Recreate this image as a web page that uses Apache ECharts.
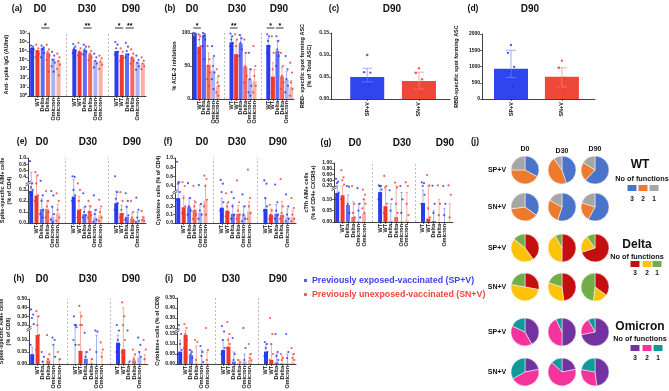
<!DOCTYPE html>
<html>
<head>
<meta charset="utf-8">
<script src="https://cdn.jsdelivr.net/npm/echarts@6/dist/echarts.min.js"></script>
<style>
  html, body { margin: 0; padding: 0; background: #fff; }
  #main { width: 669px; height: 391px; }
</style>
</head>
<body>
<div id="main"></div>
<script>
// ---- data ----
var variants = ['WT', 'WT', 'Delta', 'Delta', 'Omicron', 'Omicron'];
var dayNames = ['D0', 'D30', 'D90'];
var barX = [0, 1, 2, 3, 4, 5, 8, 9, 10, 11, 12, 13, 16, 17, 18, 19, 20, 21];

// (a) anti-spike IgG (AU/ml)
var iggMean = [2.3e5, 1.3e5, 2.3e5, 6.5e4, 1.5e4, 8e3, 1.6e5, 8.5e4, 1.3e5, 4.3e4, 8e3, 6.5e3, 1e5, 3.6e4, 5.5e4, 2e4, 5.5e3, 4.3e3];
var iggDots = [
  [4e5, 3e5, 2e5, 1.5e5, 8e4, 5e4, 2e4], [5e5, 2e5, 1e5, 5e4, 2e4, 5e3], [4e5, 2.5e5, 1.5e5, 6e4, 2e4],
  [5e5, 1.5e5, 8e4, 3e4, 1e4, 5e2], [8e4, 3e4, 1e4, 5e3, 2e3, 5e2], [5e4, 2e4, 8e3, 3e3, 1e3, 2e2],
  [6e5, 3e5, 2e5, 1e5, 6e4], [8e5, 2e5, 1e5, 5e4, 3e4], [5e5, 3e5, 1.5e5, 8e4, 4e4],
  [3e5, 1e5, 5e4, 2e4, 1e4], [5e4, 2e4, 8e3, 4e3, 1.5e3], [3e4, 1.5e4, 7e3, 3e3, 1e3],
  [1e6, 5e5, 2e5, 8e4, 4e4], [2e5, 8e4, 3e4, 1.5e4, 8e3], [8e5, 3e5, 1e5, 4e4, 2e4],
  [1.5e5, 5e4, 2e4, 8e3, 4e3], [3e4, 1e4, 5e3, 2e3, 8e2], [2e4, 8e3, 4e3, 2e3, 1e3]
];
var iggSig = [[2, 3, '*'], [10, 11, '**'], [16, 17, '*'], [18, 19, '**']];

// (b) % ACE-2 inhibition
var aceMean = [96, 79, 97, 52, 43, 20, 86, 68, 84, 49, 30, 27, 82, 34, 73, 34, 29, 18];
var aceErr = [100, 98, 100, 70, 62, 33, 95, 88, 97, 70, 45, 45, 92, 55, 88, 48, 42, 28];
var aceDots = [
  [100, 99, 98, 97, 95, 90], [98, 95, 90, 80, 70, 60, 50], [100, 98, 95, 90, 80, 60],
  [80, 60, 50, 40, 30, 20], [80, 65, 50, 40, 30, 15], [45, 35, 25, 20, 10, 5],
  [99, 95, 90, 85, 80, 75], [98, 90, 80, 60, 45, 30], [97, 92, 85, 75, 65],
  [90, 70, 50, 35, 25], [70, 45, 30, 20, 10, 5], [80, 50, 35, 20, 10],
  [98, 95, 88, 80, 70, 60], [95, 70, 45, 25, 10, 5], [95, 88, 75, 65, 50],
  [70, 50, 35, 25, 15], [65, 45, 30, 20, 10], [55, 40, 25, 15, 5]
];
var aceSig = [[0, 1, '*'], [8, 9, '**'], [16, 17, '*'], [18, 19, '*']];

// (c) RBD-specific ASC (% of total ASC), (d) RBD-specific ASC
var ascGroups = ['SP+V', 'SN+V'];
var ascPctMean = [0.05, 0.041];
var ascPctLow = [0.039, 0.023];
var ascPctHigh = [0.07, 0.061];
var ascPctDots = [[0.1, 0.061, 0.06, 0.043, 0.032], [0.07, 0.059, 0.045, 0.025, 0.014]];
var ascCountMean = [932, 686];
var ascCountLow = [660, 370];
var ascCountHigh = [1500, 960];
var ascCountDots = [[1660, 1420, 990, 850, 380], [1180, 960, 620, 380, 170]];

// (e) spike-specific AIM+ (% of CD4)
var cd4AimMean = [0.29, 0.25, 0.125, 0.125, 0.057, 0.088, 0.24, 0.12, 0.08, 0.11, 0.05, 0.07, 0.18, 0.09, 0.057, 0.04, 0.01, 0.035];
var cd4AimErr = [0.55, 0.4, 0.22, 0.2, 0.14, 0.17, 0.38, 0.24, 0.14, 0.16, 0.12, 0.13, 0.29, 0.16, 0.14, 0.09, 0.1, 0.06];
var cd4AimDots = [
  [0.9, 0.35, 0.32, 0.3, 0.28, 0.25], [0.55, 0.45, 0.35, 0.25, 0.2, 0.15], [0.37, 0.25, 0.2, 0.12, 0.08, 0.05],
  [0.29, 0.2, 0.15, 0.1, 0.05], [0.29, 0.25, 0.15, 0.08, 0.03, 0.01], [0.27, 0.2, 0.12, 0.05, 0.02],
  [0.42, 0.4, 0.3, 0.25, 0.2, 0.15], [0.35, 0.3, 0.2, 0.12, 0.05], [0.27, 0.15, 0.1, 0.07, 0.05],
  [0.2, 0.15, 0.1, 0.07, 0.05], [0.25, 0.12, 0.08, 0.03, 0.01], [0.21, 0.15, 0.1, 0.05, 0.02],
  [0.42, 0.28, 0.22, 0.18, 0.12, 0.08], [0.28, 0.2, 0.12, 0.08, 0.05], [0.27, 0.2, 0.15, 0.07, 0.03],
  [0.2, 0.1, 0.05, 0.02], [0.23, 0.12, 0.05, 0.02, 0.01], [0.11, 0.05, 0.03, 0.02]
];

// (f) cytokine+ (% of CD4)
var cd4CytMean = [0.3, 0.19, 0.19, 0.16, 0.125, 0.27, 0.185, 0.15, 0.11, 0.11, 0.1, 0.14, 0.17, 0.1, 0.11, 0.1, 0.07, 0.07];
var cd4CytErr = [0.5, 0.32, 0.3, 0.27, 0.22, 0.42, 0.3, 0.24, 0.22, 0.21, 0.2, 0.26, 0.3, 0.17, 0.22, 0.26, 0.17, 0.15];
var cd4CytDots = [
  [0.92, 0.48, 0.45, 0.35, 0.28, 0.2], [0.48, 0.4, 0.3, 0.2, 0.12, 0.08], [0.46, 0.3, 0.2, 0.15, 0.1],
  [0.4, 0.25, 0.2, 0.1, 0.05], [0.42, 0.23, 0.15, 0.1, 0.05], [0.62, 0.55, 0.4, 0.28, 0.2, 0.1],
  [0.53, 0.45, 0.35, 0.25, 0.15, 0.1], [0.34, 0.25, 0.2, 0.12, 0.08], [0.35, 0.3, 0.2, 0.1, 0.05],
  [0.52, 0.25, 0.15, 0.1, 0.05], [0.33, 0.2, 0.1, 0.05, 0.02], [0.75, 0.3, 0.2, 0.12, 0.05],
  [0.52, 0.45, 0.3, 0.2, 0.15, 0.08], [0.22, 0.15, 0.1, 0.07, 0.05], [0.43, 0.25, 0.15, 0.1, 0.05],
  [0.55, 0.2, 0.12, 0.08, 0.05], [0.33, 0.2, 0.1, 0.05, 0.02], [0.3, 0.18, 0.1, 0.05, 0.02]
];

// (g) cTfh AIM+ (% of CD4+ CXCR5+)
var tfhMean = [0.128, 0.118, 0.075, 0.022, 0.003, 0.037, 0.132, 0.07, 0.003, 0.022, 0.003, 0.007, 0.084, 0.015, 0.004, 0, 0, 0];
var tfhErr = [0.2, 0.2, 0.12, 0.09, 0.08, 0.1, 0.2, 0.15, 0.08, 0.2, 0.13, 0.13, 0.14, 0.2, 0.05, 0.1, 0.06, 0.08];
var tfhDots = [
  [0.45, 0.35, 0.3, 0.13, 0.1, 0.05], [0.75, 0.5, 0.4, 0.25, 0.1, 0.05], [0.2, 0.19, 0.08, 0.04],
  [0.2, 0.08, 0.04, 0.02], [0.17, 0.08, 0.05, 0.02], [0.15, 0.12, 0.1, 0.08, 0.06, 0.04],
  [0.22, 0.2, 0.2, 0.15, 0.1, 0.05], [0.55, 0.2, 0.18, 0.08, 0.04], [0.14, 0.1, 0.05],
  [0.32, 0.18, 0.08, 0.04], [0.2, 0.1, 0.04], [0.33, 0.2, 0.08, 0.03],
  [0.33, 0.3, 0.2, 0.12, 0.08, 0.04], [0.58, 0.22, 0.06, 0.02], [0.21, 0.08, 0.04],
  [0.22, 0.08, 0.03], [0.2, 0.08, 0.03], [0.22, 0.12, 0.02]
];

// (h) spike-specific AIM+ (% of CD8)
var cd8AimMean = [0.041, 0.121, 0, 0.015, 0, 0, 0, 0.055, 0.022, 0.003, 0, 0, 0.089, 0.062, 0, 0.015, 0.027, 0];
var cd8AimErr = [0.07, 0.3, 0.01, 0.022, 0.07, 0.02, 0.2, 0.35, 0.05, 0.02, 0.12, 0.05, 0.12, 0.4, 0.005, 0.03, 0.05, 0.04];
var cd8AimDots = [
  [0.38, 0.32, 0.28, 0.21, 0.08, 0.02], [0.36, 0.3, 0.2, 0.12, 0.06, 0.03], [0.05, 0.03, 0.01],
  [0.12, 0.04, 0.02], [0.11, 0.1, 0.08, 0.03], [0.05, 0.02],
  [0.3, 0.2, 0.2, 0.18, 0.1, 0.08], [0.42, 0.3, 0.2, 0.2, 0.08, 0.03], [0.13, 0.05, 0.03],
  [0.06, 0.02], [0.15, 0.14, 0.05], [0.09, 0.06, 0.03],
  [0.2, 0.15, 0.1, 0.08, 0.05], [0.46, 0.3, 0.2, 0.1, 0.05], [0.15, 0.01],
  [0.06, 0.04, 0.02], [0.11, 0.08, 0.05, 0.03], [0.1, 0.06, 0.02]
];

// (i) cytokine+ (% of CD8)
var cd8CytMean = [0.062, 0.145, 0.045, 0.002, 0.003, 0.003, 0.07, 0.087, 0.012, 0.003, 0.012, 0.02, 0.062, 0.02, 0.008, 0.003, 0.003, 0.007];
var cd8CytErr = [0.12, 0.18, 0.07, 0.09, 0.07, 0.06, 0.12, 0.13, 0.06, 0.02, 0.05, 0.05, 0.1, 0.1, 0.05, 0.04, 0.05, 0.05];
var cd8CytDots = [
  [0.23, 0.15, 0.1, 0.07, 0.05, 0.02], [0.24, 0.2, 0.15, 0.12, 0.08], [0.07, 0.06, 0.05, 0.03],
  [0.12, 0.11, 0.02], [0.09, 0.06, 0.04, 0.01], [0.2, 0.07, 0.02],
  [0.22, 0.17, 0.12, 0.08, 0.05], [0.26, 0.15, 0.12, 0.1, 0.08], [0.13, 0.05, 0.02],
  [0.02, 0.01], [0.2, 0.08, 0.02], [0.1, 0.05, 0.03, 0.02],
  [0.11, 0.1, 0.08, 0.06, 0.04], [0.3, 0.15, 0.1, 0.05, 0.02], [0.15, 0.06, 0.04, 0.02],
  [0.05, 0.03, 0.02], [0.15, 0.06, 0.03], [0.08, 0.05, 0.03, 0.02]
];

// (j) share of responders by number of functions [3, 2, 1], per day D0/D30/D90
var fnLabels = ['3', '2', '1'];
var wtSPV = [[33, 42, 25], [45, 45, 10], [62, 22, 16]];
var wtSNV = [[35, 38, 27], [55, 28, 17], [58, 22, 20]];
var deltaSPV = [[40, 46, 14], [50, 42, 8], [70, 20, 10]];
var deltaSNV = [[28, 50, 22], [48, 32, 20], [35, 17, 48]];
var omiSPV = [[42, 40, 18], [50, 43, 7], [72, 20, 8]];
var omiSNV = [[22, 45, 33], [22, 65, 13], [48, 30, 22]];

// ---- styling ----
var FONT = '"Liberation Sans", Arial, sans-serif';
var INK = '#111';
var SP_NAME = 'Previously exposed-vaccinated (SP+V)';
var SN_NAME = 'Previously unexposed-vaccinated (SN+V)';
var dotBlue = '#2433ee', dotRed = '#ef3a2f';
var barColors = ['#2a3cf0', '#f0392b', '#5e6df2', '#f3695d', '#a9b2f5', '#f6b1a8'];
var errColors = ['#7f8bf0', '#f18a80'];
var jit = [-0.22, 0.18, -0.05, 0.28, -0.3, 0.08, 0.22];
var sup = ['\u2070', '\u00b9', '\u00b2', '\u00b3', '\u2074', '\u2075', '\u2076', '\u2077'];

function piecewise(lowTop, upBottom, tUp, slope) {
  return function (v) {
    if (v <= lowTop) return v;
    if (v >= upBottom) return tUp + (v - upBottom) * slope;
    return lowTop + (v - lowTop) / (upBottom - lowTop) * (tUp - lowTop);
  };
}

var panels = [
  { grid: { left: 29, top: 33, width: 117, height: 63 }, scale: function (v) { return Math.log10(Math.max(v, 1)); },
    ticks: [1, 10, 100, 1e3, 1e4, 1e5, 1e6, 1e7], fmt: function (v) { return '10' + sup[Math.round(Math.log10(v))]; },
    name: 'Anti- spike IgG (AU/ml)', gap: 19, mean: iggMean, err: null, dots: iggDots, sig: iggSig },
  { grid: { left: 192, top: 33, width: 102, height: 66 }, scale: function (v) { return v; },
    ticks: [0, 50, 100], fmt: function (v) { return String(v); },
    name: '% ACE-2 inhibition', gap: 14, mean: aceMean, err: aceErr, dots: aceDots, sig: aceSig },
  { grid: { left: 28, top: 158, width: 118, height: 65 }, scale: piecewise(0.3, 0.4, 0.418, 0.287), brk: 0.35,
    ticks: [0, 0.1, 0.2, 0.3, 0.4, 0.6, 0.8, 1.0], fmt: function (v) { return v.toFixed(1); },
    name: 'Spike-specific AIM+ cells\n(% of CD4)', gap: 15, mean: cd4AimMean, err: cd4AimErr, dots: cd4AimDots },
  { grid: { left: 175, top: 158, width: 121, height: 65 }, scale: piecewise(0.3, 0.4, 0.446, 0.562), brk: 0.35,
    ticks: [0, 0.1, 0.2, 0.3, 0.4, 0.6, 0.8, 1.0], fmt: function (v) { return v.toFixed(1); },
    name: 'Cytokine+ cells (% of CD4)', gap: 10, mean: cd4CytMean, err: cd4CytErr, dots: cd4CytDots },
  { grid: { left: 334, top: 163, width: 119, height: 59 }, scale: piecewise(0.14, 0.2, 0.1586, 0.1268), brk: 0.17,
    ticks: [0, 0.05, 0.1, 0.2, 0.4, 0.6, 0.8, 1.0], fmt: function (v) { return v.toFixed(2); },
    name: 'cTfh AIM+ cells\n(% of CD4+ CXCR5+)', gap: 17, mean: tfhMean, err: tfhErr, dots: tfhDots },
  { grid: { left: 29, top: 299, width: 119, height: 65 }, scale: piecewise(0.13, 0.2, 0.1625, 0.3617), brk: 0.165,
    ticks: [0, 0.05, 0.1, 0.2, 0.3, 0.4, 0.5], fmt: function (v) { return v.toFixed(2); },
    name: 'Spike-specific AIM+ cells\n(% of CD8)', gap: 17, mean: cd8AimMean, err: cd8AimErr, dots: cd8AimDots },
  { grid: { left: 177, top: 298, width: 119, height: 66 }, scale: piecewise(0.15, 0.2, 0.18, 0.5), brk: 0.175,
    ticks: [0, 0.05, 0.1, 0.15, 0.2, 0.3, 0.4, 0.5], fmt: function (v) { return v.toFixed(2); },
    name: 'Cytokine+ cells (% of CD8)', gap: 11, mean: cd8CytMean, err: cd8CytErr, dots: cd8CytDots }
];

var grids = [], xAxes = [], yAxes = [], series = [], graphics = [];

function axisLineStyle() { return { show: true, onZero: false, lineStyle: { color: INK, width: 0.8 } }; }

function errSeries(gi, data, capW) {
  return {
    type: 'custom', xAxisIndex: gi, yAxisIndex: gi, silent: true, z: 5, data: data,
    renderItem: function (params, api) {
      var x = api.value(0);
      var lo = api.coord([x, api.value(1)]);
      var hi = api.coord([x, api.value(2)]);
      var col = errColors[api.value(3)];
      var kids = [
        { type: 'line', shape: { x1: lo[0], y1: lo[1], x2: hi[0], y2: hi[1] }, style: { stroke: col, lineWidth: 0.7 } },
        { type: 'line', shape: { x1: hi[0] - capW, y1: hi[1], x2: hi[0] + capW, y2: hi[1] }, style: { stroke: col, lineWidth: 0.7 } }
      ];
      if (api.value(4)) {
        kids.push({ type: 'line', shape: { x1: lo[0] - capW, y1: lo[1], x2: lo[0] + capW, y2: lo[1] }, style: { stroke: col, lineWidth: 0.7 } });
      }
      return { type: 'group', children: kids };
    }
  };
}

panels.forEach(function (p, gi) {
  grids.push({ left: p.grid.left, top: p.grid.top, width: p.grid.width, height: p.grid.height, containLabel: false, outerBoundsMode: 'none' });
  var tT = p.ticks.map(p.scale);
  var tMax = tT[tT.length - 1];
  xAxes.push({
    gridIndex: gi, type: 'value', min: -0.6, max: 21.6,
    axisLine: axisLineStyle(),
    axisTick: { customValues: barX, length: 2, lineStyle: { color: INK, width: 0.6 } },
    axisLabel: { customValues: barX, rotate: 90, fontSize: 5.5, fontWeight: 'bold', color: INK, fontFamily: FONT, margin: 2,
      formatter: function (v) { return variants[barX.indexOf(v) % 6]; } },
    splitLine: { show: false }
  });
  yAxes.push({
    gridIndex: gi, type: 'value', min: 0, max: tMax,
    axisLine: axisLineStyle(),
    axisTick: { show: true, customValues: tT, length: 2, lineStyle: { color: INK, width: 0.6 } },
    axisLabel: { customValues: tT, fontSize: 5, fontWeight: 'bold', color: INK, fontFamily: FONT, margin: 2,
      formatter: function (v) {
        var best = 0;
        tT.forEach(function (t, k) { if (Math.abs(t - v) < Math.abs(tT[best] - v)) best = k; });
        return p.fmt(p.ticks[best]);
      } },
    splitLine: { show: false },
    name: p.name, nameLocation: 'middle', nameRotate: 90, nameGap: p.gap,
    nameTextStyle: { fontSize: 5.5, fontWeight: 'bold', color: INK, fontFamily: FONT, lineHeight: 7 }
  });
  series.push({
    type: 'bar', xAxisIndex: gi, yAxisIndex: gi, barWidth: 4, silent: true, z: 2,
    data: barX.map(function (x, i) { return { value: [x, p.scale(p.mean[i])], itemStyle: { color: barColors[i % 6] } }; }),
    markLine: { silent: true, symbol: 'none', label: { show: false },
      lineStyle: { type: [2, 2], color: '#aaa', width: 0.8 },
      data: [{ xAxis: 6.5 }, { xAxis: 14.5 }] }
  });
  if (p.err) {
    series.push(errSeries(gi, barX.map(function (x, i) { return [x, p.scale(p.mean[i]), p.scale(p.err[i]), i % 2, 0]; }), 1.2));
  }
  [0, 1].forEach(function (side) {
    var pts = [];
    barX.forEach(function (x, i) {
      if (i % 2 !== side) return;
      p.dots[i].forEach(function (v, k) { pts.push([x + jit[k % jit.length], p.scale(v)]); });
    });
    series.push({ type: 'scatter', name: side ? SN_NAME : SP_NAME, xAxisIndex: gi, yAxisIndex: gi, silent: true, z: 6,
      symbol: 'circle', symbolSize: 2.2, itemStyle: { color: side ? dotRed : dotBlue }, data: pts });
  });
  if (p.sig) {
    series.push({
      type: 'custom', xAxisIndex: gi, yAxisIndex: gi, silent: true, z: 7,
      data: p.sig.map(function (s) { return [s[0], s[1], s[2].length]; }),
      renderItem: function (params, api) {
        var a = api.coord([api.value(0), tMax]), b = api.coord([api.value(1), tMax]);
        var y = a[1] - 5;
        return { type: 'group', children: [
          { type: 'line', shape: { x1: a[0] - 1.5, y1: y, x2: b[0] + 1.5, y2: y }, style: { stroke: '#000', lineWidth: 0.8 } },
          { type: 'text', x: (a[0] + b[0]) / 2, y: y + 1.5, style: { text: new Array(api.value(2) + 1).join('*'), fill: '#000',
            font: 'bold 7px ' + FONT, textAlign: 'center', textVerticalAlign: 'bottom' } }
        ] };
      }
    });
  }
});

// (c) and (d): two-group bar charts
var ascJit = [0, -0.06, 0.06, -0.03, 0.04];
var ascPanels = [
  { grid: { left: 331, top: 33, width: 119, height: 66 }, xMin: -0.7, xMax: 1.6, yMax: 0.15, interval: 0.05,
    fmt: function (v) { return v.toFixed(2); }, name: 'RBD- specific spot forming ASC\n(% of Total ASC)', gap: 18,
    mean: ascPctMean, low: ascPctLow, high: ascPctHigh, dots: ascPctDots },
  { grid: { left: 482, top: 34, width: 113, height: 65 }, xMin: -0.57, xMax: 1.65, yMax: 2000, interval: 500,
    fmt: function (v) { return String(v); }, name: 'RBD-specific spot forming ASC', gap: 22,
    mean: ascCountMean, low: ascCountLow, high: ascCountHigh, dots: ascCountDots }
];
ascPanels.forEach(function (p) {
  var gi = grids.length;
  grids.push({ left: p.grid.left, top: p.grid.top, width: p.grid.width, height: p.grid.height, containLabel: false, outerBoundsMode: 'none' });
  xAxes.push({
    gridIndex: gi, type: 'value', min: p.xMin, max: p.xMax,
    axisLine: axisLineStyle(),
    axisTick: { customValues: [0, 1], length: 2, lineStyle: { color: INK, width: 0.6 } },
    axisLabel: { customValues: [0, 1], rotate: 90, fontSize: 5.5, fontWeight: 'bold', color: INK, fontFamily: FONT, margin: 3,
      formatter: function (v) { return ascGroups[Math.round(v)]; } },
    splitLine: { show: false }
  });
  yAxes.push({
    gridIndex: gi, type: 'value', min: 0, max: p.yMax, interval: p.interval,
    axisLine: axisLineStyle(),
    axisTick: { show: true, length: 2, lineStyle: { color: INK, width: 0.6 } },
    axisLabel: { fontSize: 5, fontWeight: 'bold', color: INK, fontFamily: FONT, margin: 2, formatter: p.fmt },
    splitLine: { show: false },
    name: p.name, nameLocation: 'middle', nameRotate: 90, nameGap: p.gap,
    nameTextStyle: { fontSize: 5.5, fontWeight: 'bold', color: INK, fontFamily: FONT, lineHeight: 7 }
  });
  series.push({
    type: 'bar', xAxisIndex: gi, yAxisIndex: gi, barWidth: 34, silent: true,
    data: p.mean.map(function (m, i) { return { value: [i, m], itemStyle: { color: i ? '#f0473b' : '#2f45ee' } }; })
  });
  series.push(errSeries(gi, p.mean.map(function (m, i) { return [i, p.low[i], p.high[i], i, 1]; }), 5));
  [0, 1].forEach(function (side) {
    series.push({ type: 'scatter', name: side ? SN_NAME : SP_NAME, xAxisIndex: gi, yAxisIndex: gi, silent: true, z: 6,
      symbolSize: 2.4, itemStyle: { color: side ? dotRed : dotBlue },
      data: p.dots[side].map(function (v, k) { return [side + ascJit[k], v]; }) });
  });
});

// (j) pies
var pieCols = [525, 562, 595];
var pieRows = [
  { y: 170, vals: wtSPV, colors: ['#4a74c9', '#ec7b2f', '#a6a6a6'] },
  { y: 207, vals: wtSNV, colors: ['#4a74c9', '#ec7b2f', '#a6a6a6'] },
  { y: 248, vals: deltaSPV, colors: ['#c40f10', '#fdc20a', '#72ae48'] },
  { y: 287, vals: deltaSNV, colors: ['#c40f10', '#fdc20a', '#72ae48'] },
  { y: 332, vals: omiSPV, colors: ['#7232a0', '#f6339c', '#119999'] },
  { y: 372, vals: omiSNV, colors: ['#7232a0', '#f6339c', '#119999'] }
];
pieRows.forEach(function (row, r) {
  row.vals.forEach(function (v, c) {
    series.push({
      type: 'pie', center: [pieCols[c], row.y], radius: 14, startAngle: 90, clockwise: true, silent: true,
      label: { show: false }, labelLine: { show: false },
      itemStyle: { borderColor: '#fff', borderWidth: 0.5 },
      data: v.map(function (val, k) { return { name: fnLabels[k], value: val, itemStyle: { color: row.colors[k] } }; })
    });
  });
  graphics.push({ type: 'text', x: 497, y: row.y, style: { text: r % 2 ? 'SN+V' : 'SP+V', font: 'bold 7px ' + FONT, fill: INK,
    textAlign: 'center', textVerticalAlign: 'middle' } });
});

// ---- text ----
function txt(x, y, s, size) {
  graphics.push({ type: 'text', x: x, y: y, style: { text: s, font: 'bold ' + size + 'px ' + FONT, fill: INK,
    textAlign: 'center', textVerticalAlign: 'middle' } });
}
var headings = [
  { l: '(a)', lx: 17, y: 9, days: [40, 87, 131] },
  { l: '(b)', lx: 170, y: 9, days: [192, 237, 279] },
  { l: '(e)', lx: 22, y: 142, days: [42, 88, 132] },
  { l: '(f)', lx: 168, y: 142, days: [202, 237, 278] },
  { l: '(g)', lx: 326, y: 143, days: [355, 402, 445] },
  { l: '(h)', lx: 19, y: 279, days: [42, 88, 131] },
  { l: '(i)', lx: 169, y: 279, days: [190, 231, 278] }
];
headings.forEach(function (h) {
  txt(h.lx, h.y, h.l, 8.5);
  h.days.forEach(function (x, k) { txt(x, h.y, dayNames[k], 10); });
});
txt(334, 9, '(c)', 8.5); txt(392, 9, 'D90', 10);
txt(473, 9, '(d)', 8.5); txt(530, 9, 'D90', 10);
txt(475, 142, '(j)', 8.5);
txt(525, 149, 'D0', 7); txt(562, 151, 'D30', 7); txt(595, 149, 'D90', 7);

var pieLegends = [
  { title: 'WT', tx: 640, ty: 165, ny: 179, nx: 642, sq: [632, 643, 654], sy: 188, numY: 199, colors: pieRows[0].colors },
  { title: 'Delta', tx: 637, ty: 245, ny: 257, nx: 637, sq: [635, 647, 657], sy: 264, numY: 273, colors: pieRows[2].colors },
  { title: 'Omicron', tx: 640, ty: 327, ny: 339, nx: 640, sq: [635, 647, 658], sy: 348, numY: 358, colors: pieRows[4].colors }
];
pieLegends.forEach(function (L) {
  txt(L.tx, L.ty, L.title, 12);
  txt(L.nx, L.ny, 'No of functions', 7.3);
  L.sq.forEach(function (x, k) {
    graphics.push({ type: 'rect', shape: { x: x - 4.5, y: L.sy - 3, width: 9, height: 6 }, style: { fill: L.colors[k] } });
    txt(x, L.numY, fnLabels[k], 6.5);
  });
});

var chart = echarts.init(document.getElementById('main'), null, { renderer: 'canvas' });
var option = {
  animation: false,
  backgroundColor: '#fff',
  grid: grids, xAxis: xAxes, yAxis: yAxes, series: series, graphic: graphics,
  legend: {
    left: 299, top: 271, orient: 'vertical', itemGap: 5, itemWidth: 3, itemHeight: 3, icon: 'rect',
    selectedMode: false,
    textStyle: { fontSize: 8.8, fontWeight: 'bold', fontFamily: FONT },
    data: [{ name: SP_NAME, textStyle: { color: '#3a44f0' } }, { name: SN_NAME, textStyle: { color: '#f0473b' } }]
  }
};
chart.setOption(option);

// axis break marks on the split y axes
panels.forEach(function (p, gi) {
  if (p.brk === undefined) return;
  var pt = chart.convertToPixel({ xAxisIndex: gi, yAxisIndex: gi }, [-0.6, p.scale(p.brk)]);
  var x = pt[0], y = pt[1];
  graphics.push({ type: 'rect', shape: { x: x - 1, y: y - 1.5, width: 2, height: 3 }, style: { fill: '#fff' }, z: 50 });
  graphics.push({ type: 'line', shape: { x1: x - 2.5, y1: y + 0.5, x2: x + 2.5, y2: y - 2.5 }, style: { stroke: INK, lineWidth: 0.7 }, z: 51 });
  graphics.push({ type: 'line', shape: { x1: x - 2.5, y1: y + 2.5, x2: x + 2.5, y2: y - 0.5 }, style: { stroke: INK, lineWidth: 0.7 }, z: 51 });
});
chart.setOption({ graphic: graphics });
</script>
</body>
</html>
